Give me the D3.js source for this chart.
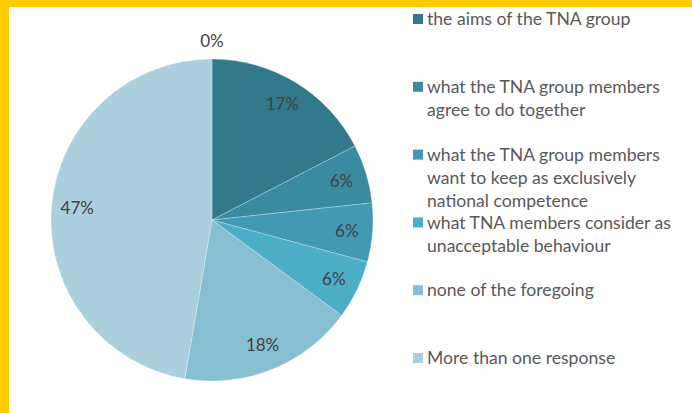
<!DOCTYPE html>
<html>
<head>
<meta charset="utf-8">
<script src="https://cdn.jsdelivr.net/npm/d3@7"></script>
<style>
  body { margin: 0; background: #fff; }
  svg { display: block; font-family: Lato, "Open Sans", sans-serif; }
</style>
</head>
<body>
<svg id="chart" width="692" height="413"></svg>
<script>
  const categories = [
    'the aims of the TNA group',
    'what the TNA group members agree to do together',
    'what the TNA group members want to keep as exclusively national competence',
    'what TNA members consider as unacceptable behaviour',
    'none of the foregoing',
    'More than one response',
    'no answer'
  ];
  const values = [17.4, 5.9, 5.9, 5.9, 17.6, 47.3, 0];
  const labels = ['17%', '6%', '6%', '6%', '18%', '47%', '0%'];
  const colorAry = ['#327a8b', '#3a8aa0', '#4299b2', '#4badc6', '#86bfd1', '#abcfdc', '#c9e1e9'];

  const svg = d3.select('#chart');
  const width = 692, height = 413;

  // yellow frame (top and left)
  svg.append('rect').attr('x', 0).attr('y', 0).attr('width', width).attr('height', 7).attr('fill', '#ffcc00');
  svg.append('rect').attr('x', 0).attr('y', 0).attr('width', 9).attr('height', height).attr('fill', '#ffcc00');

  const dataset = categories.map((name, i) => ({ name: name, value: values[i], label: labels[i], color: colorAry[i] }));

  const cx = 212, cy = 220, radius = 161;
  const g = svg.append('g').attr('transform', `translate(${cx},${cy})`);

  const pie = d3.pie().sort(null).value(d => d.value);
  const path = d3.arc().innerRadius(0).outerRadius(radius);
  const inLabel = d3.arc().innerRadius(radius * 0.84).outerRadius(radius * 0.84);
  const outLabel = d3.arc().innerRadius(radius + 18).outerRadius(radius + 18);

  const arcs = pie(dataset);

  g.selectAll('path')
    .data(arcs.filter(d => d.data.value > 0))
    .enter()
    .append('path')
    .attr('d', path)
    .attr('fill', d => d.data.color)
    .attr('stroke', '#ffffff')
    .attr('stroke-opacity', 0.45)
    .attr('stroke-width', 0.6);

  g.selectAll('text')
    .data(arcs)
    .enter()
    .append('text')
    .attr('transform', d => 'translate(' + (d.data.value > 0 ? inLabel : outLabel).centroid(d) + ')')
    .attr('text-anchor', 'middle')
    .attr('dy', '0.35em')
    .attr('font-size', '17px')
    .attr('fill', '#404040')
    .text(d => d.data.label);

  // legend
  const legendX = 413, legendTop = 19, legendStep = 67.8, lineH = 23, maxW = 258;
  const legend = svg.append('g');

  dataset.filter(d => d.value > 0).forEach((d, i) => {
    const y = legendTop + i * legendStep;
    const item = legend.append('g').attr('transform', `translate(${legendX},${y})`);
    item.append('rect')
      .attr('x', 0).attr('y', -5)
      .attr('width', 10).attr('height', 10)
      .attr('fill', d.color);
    const text = item.append('text')
      .attr('x', 14)
      .attr('y', 0)
      .attr('font-size', '17.6px')
      .attr('fill', '#595959');
    // wrap words
    const words = d.name.split(' ');
    let line = [];
    let tspan = text.append('tspan').attr('x', 14).attr('dy', '0.35em');
    words.forEach(w => {
      line.push(w);
      tspan.text(line.join(' '));
      if (tspan.node().getComputedTextLength() > maxW && line.length > 1) {
        line.pop();
        tspan.text(line.join(' '));
        line = [w];
        tspan = text.append('tspan').attr('x', 14).attr('dy', lineH + 'px').text(w);
      }
    });
  });
</script>
</body>
</html>
